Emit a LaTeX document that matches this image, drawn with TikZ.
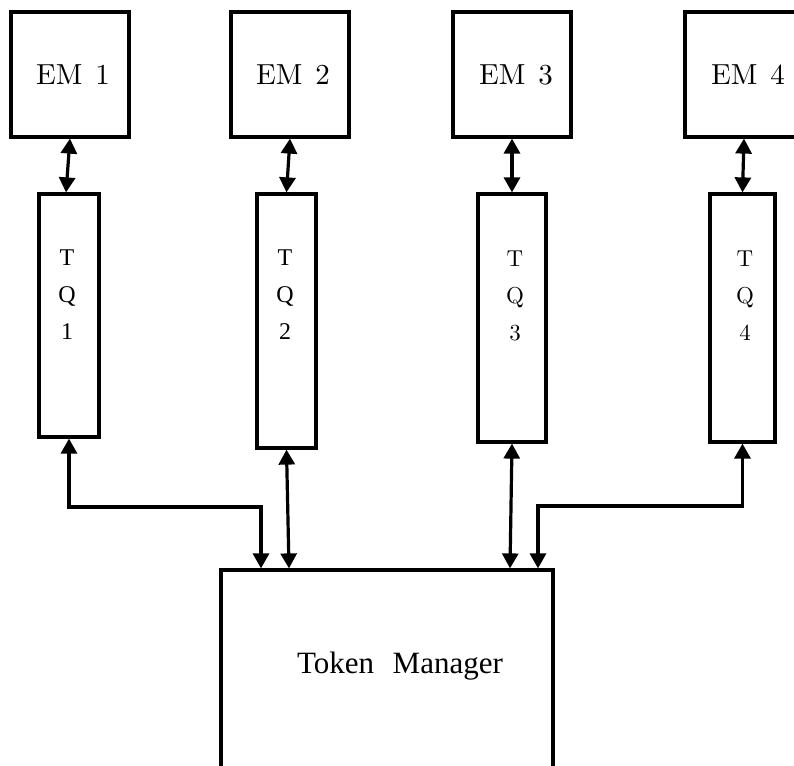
\documentclass[tikz,border=0pt]{standalone}
\usepackage{fontspec}
\newfontfamily\timesfont{Liberation Serif}
\newfontfamily\lmten{lmroman10-regular}[Extension=.otf]
\usetikzlibrary{arrows.meta}
\begin{document}
\begin{tikzpicture}[x=1pt,y=-1pt,
  box/.style={draw, line width=3.2pt, rectangle, inner sep=0pt},
  embox/.style={box, minimum width=118pt, minimum height=125pt,
    font=\lmten\fontsize{29}{31}\selectfont},
  tqtext/.style={anchor=north, inner sep=0pt, align=center},
  link/.style={line width=3.2pt,
    {Triangle[width=16pt,length=15pt]}-{Triangle[width=16pt,length=15pt]}},
]
\useasboundingbox (0,0) rectangle (794,765);
\clip (0,0) rectangle (794,765);
\fill[white] (0,0) rectangle (794,765);

% execution managers
\node[embox] (em1) at (70,74.5)  {\hspace{6pt}EM\hspace{0.45em}1};
\node[embox] (em2) at (290,74.5) {\hspace{6pt}EM\hspace{0.45em}2};
\node[embox] (em3) at (512,74.5) {\hspace{8pt}EM\hspace{0.45em}3};
\node[embox] (em4) at (744,74.5) {\hspace{8pt}EM\hspace{0.45em}4};

% token queues
\node[box, minimum width=60pt, minimum height=243pt] (tq1) at (69,315.5) {};
\node[box, minimum width=59pt, minimum height=254pt] (tq2) at (286.5,321) {};
\node[box, minimum width=68pt, minimum height=248pt] (tq3) at (512,318) {};
\node[box, minimum width=65pt, minimum height=248pt] (tq4) at (742.5,318) {};

\node[tqtext, font=\timesfont\fontsize{24}{37}\selectfont] (tq1t) at (67,250) {T\\Q\\1};
\node[tqtext, font=\timesfont\fontsize{24}{37}\selectfont] (tq2t) at (285,250) {T\\Q\\2};
\node[tqtext, font=\lmten\fontsize{23}{37}\selectfont] (tq3t) at (515,251) {T\\Q\\3};
\node[tqtext, font=\lmten\fontsize{23}{37}\selectfont] (tq4t) at (745,251) {T\\Q\\4};

% token manager
\node[box, minimum width=332pt, minimum height=230pt] (tm) at (387,685) {};
\node[font=\timesfont\fontsize{31}{34}\selectfont, inner sep=0pt] (tmt) at (400,666)
  {Token\hspace{0.6em}Manager};

% EM <-> TQ
\draw[link] (em1.south) -- ([xshift=-3pt]tq1.north);
\draw[link] (em2.south) -- (tq2.north);
\draw[link] (em3.south) -- (tq3.north);
\draw[link] (em4.south) -- (tq4.north);

% TQ <-> token manager
\coordinate (j1) at (261,507);
\coordinate (j4) at (538,506);
\draw[link] (tq1.south) |- (j1) -- (j1 |- tm.north);
\draw[link] (tq2.south) -- ([xshift=-98pt]tm.north);
\draw[link] (tq3.south) -- ([xshift=123pt]tm.north);
\draw[link] (tq4.south) |- (j4) -- (j4 |- tm.north);
\end{tikzpicture}
\end{document}
